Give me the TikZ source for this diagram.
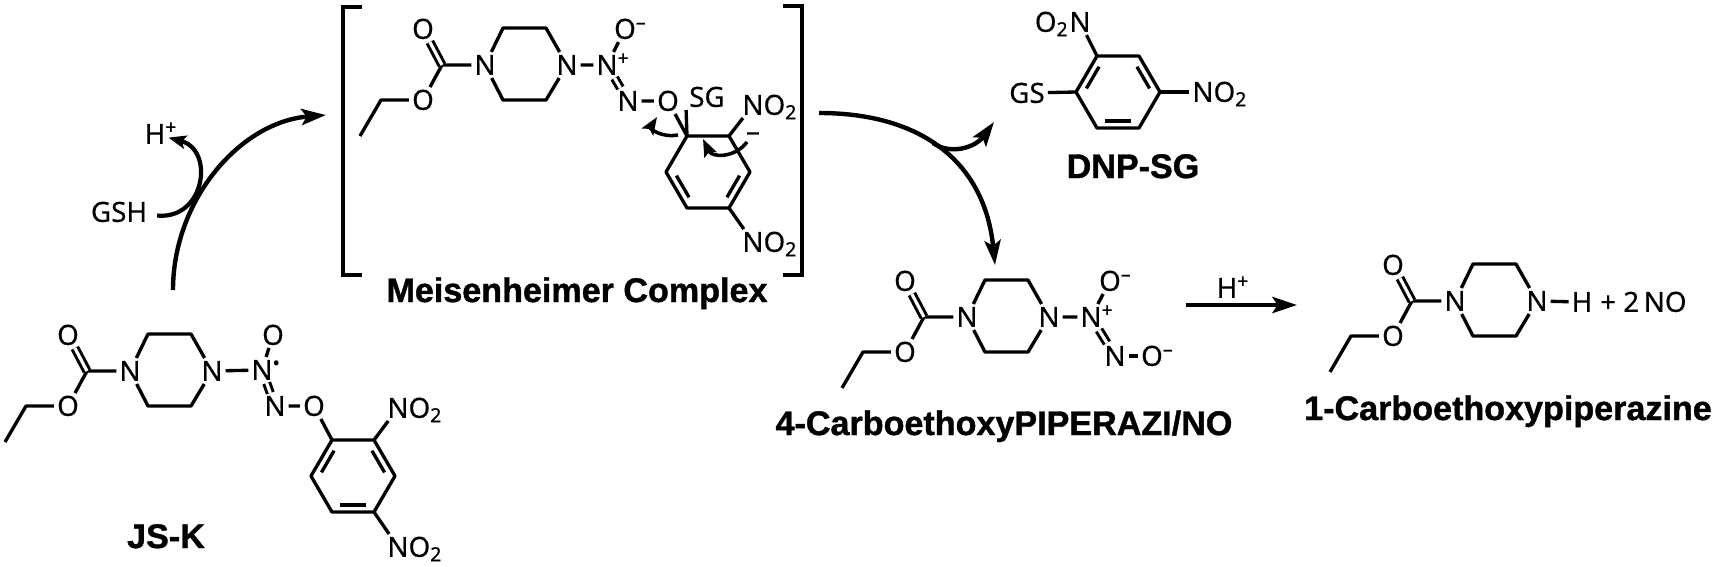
\documentclass[tikz,border=0pt]{standalone}
\usepackage{fontspec}
\usepackage{tikz}
\usetikzlibrary{arrows.meta,calc}
\setmainfont{Noto Sans}[FakeBold=0.35]
\newfontfamily\lblfont{Liberation Sans}[BoldFeatures={FakeBold=1.2}]
\newcommand{\chg}[1]{\rlap{\textsuperscript{#1}}}
\tikzset{
	atom/.style={inner sep=0.7pt,font=\fontsize{7.9}{9}\selectfont,text height=5.6pt,text depth=0pt},
	lbl/.style={inner sep=0pt,anchor=base,font=\lblfont\bfseries\fontsize{9.7}{11}\selectfont},
	bond/.style={line width=0.95pt,line join=round},
	dbl/.style={line width=0.85pt,double,double distance=0.9pt},
	brk/.style={line width=1.4pt,line join=miter},
	rxn/.style={line width=1.25pt,-{Stealth[length=7pt,width=4.6pt,inset=1.5pt]}},
	curly/.style={line width=1pt,-{Stealth[length=5pt,width=3.8pt,inset=1pt]}}
}
\begin{document}
\begin{tikzpicture}[x=0.01cm,y=-0.01cm]
		\useasboundingbox (0,0) rectangle (1717,566);

		% Ester and piperazine, four times
		\foreach \mol/\x/\y in {a/130/371, b/485/65, c/967/317, d/1455/301} {
			\begin{scope}[shift={(\x,\y)}]
				\node[atom] (\mol-L) at (0,0) {N};
				\node[atom] (\mol-R) at (82,0) {N};
				\node[atom] (\mol-O) at (-62,-36) {O};
				\node[atom] (\mol-E) at (-62,35) {O};
				\coordinate (\mol-C) at (-43,0);
				\coordinate (\mol-TL) at (18,-37);
				\coordinate (\mol-TR) at (61,-37);
				\coordinate (\mol-BR) at (61,35);
				\coordinate (\mol-BL) at (18,35);
				\coordinate (\mol-M) at (-104,35);
				\coordinate (\mol-T) at (-125,71);
				\draw[bond] (\mol-L) -- (\mol-TL) -- (\mol-TR) -- (\mol-R) -- (\mol-BR) -- (\mol-BL) -- (\mol-L);
				\draw[bond] (\mol-L) -- (\mol-C) -- (\mol-E) -- (\mol-M) -- (\mol-T);
				\draw[dbl] (\mol-C) -- (\mol-O);
			\end{scope}
		}

		% Aromatic rings
		\foreach \mol/\x/\y in {p/353/476, q/708/172, s/1118/92} {
			\begin{scope}[shift={(\x,\y)}]
				\coordinate (\mol0) at (0,0);
				\coordinate (\mol1) at (-21,-36);
				\coordinate (\mol2) at (21,-36);
				\coordinate (\mol3) at (42,0);
				\coordinate (\mol4) at (21,36);
				\coordinate (\mol5) at (-21,36);
				\coordinate (\mol6) at (-42,0);
				\draw[bond] (\mol1) -- (\mol2) -- (\mol3) -- (\mol4) -- (\mol5) -- (\mol6) -- cycle;
			\end{scope}
		}
		\foreach \mol/\i/\j in {p/1/6, p/2/3, p/4/5, q/3/4, q/5/6, s/1/6, s/2/3, s/4/5}
			\draw[bond] ($(\mol\i)!.22!(\mol0)!.1!(\mol\j)$) -- ($(\mol\j)!.22!(\mol0)!.1!(\mol\i)$);

		% JS-K
		\node[atom] (aN) at (262,370) {N\chg{•}};
		\node[atom] (aO) at (273,335) {O};
		\node[atom] (aM) at (275,406) {N};
		\node[atom] (aX) at (314,406) {O};
		\node[atom] (aA) at (398,408) {N\rlap{O\textsubscript{2}}};
		\node[atom] (aB) at (398,547) {N\rlap{O\textsubscript{2}}};
		\draw[bond] (a-R) -- (aN) -- (aO);
		\draw[dbl] (aN) -- (aM);
		\draw[bond] (aM) -- (aX) -- (p1);
		\draw[bond] (p2) -- (aA);
		\draw[bond] (p4) -- (aB);
		\node[lbl] (jsk) at (166,548) {JS-K};

		% Meisenheimer complex
		\node[atom] (bN) at (607,65) {N\chg{+}};
		\node[atom] (bO) at (625,29) {O\chg{--}};
		\node[atom] (bM) at (628,101) {N};
		\node[atom] (bX) at (668,101) {O};
		\node[atom] (bS) at (707,97) {SG};
		\node[atom] (bA) at (753,105) {N\rlap{O\textsubscript{2}}};
		\node[atom] (bB) at (753,242) {N\rlap{O\textsubscript{2}}};
		\node[atom] (bQ) at (753,131) {--};
		\draw[bond] (b-R) -- (bN) -- (bO);
		\draw[dbl] (bN) -- (bM);
		\draw[bond] (bM) -- (bX) -- (q1) -- (bS.south west);
		\draw[bond] (q2) -- (bA);
		\draw[bond] (q4) -- (bB);
		\draw[brk] (362,7) -| (343,275) -- (362,275);
		\draw[brk] (783,6) -| (802,275) -- (783,275);
		\coordinate (cA1) at (678,135);
		\coordinate (cA2) at (657,117);
		\coordinate (cB1) at (747,142);
		\coordinate (cB2) at (703,139);
		\draw[curly] (cA1) .. controls (660,138) and (650,128) .. (cA2);
		\draw[curly] (cB1) .. controls (735,158) and (712,158) .. (cB2);
		\node[lbl] (mc) at (577,302) {Meisenheimer Complex};

		% DNP-SG
		\node[atom] (sN) at (1080,22) {\llap{O\textsubscript{2}}N};
		\node[atom] (sG) at (1027,93) {GS};
		\node[atom] (sA) at (1203,92) {N\rlap{O\textsubscript{2}}};
		\draw[bond] (s1) -- (sN);
		\draw[bond] (s6) -- (sG);
		\draw[bond] (s3) -- (sA);
		\node[lbl] (dnp) at (1133,178) {DNP-SG};

		% 4-CarboethoxyPIPERAZI/NO
		\node[atom] (cN) at (1091,317) {N\chg{+}};
		\node[atom] (cO) at (1110,281) {O\chg{--}};
		\node[atom] (cM) at (1115,356) {N};
		\node[atom] (cX) at (1152,356) {O\chg{--}};
		\draw[bond] (c-R) -- (cN) -- (cO);
		\draw[dbl] (cN) -- (cM);
		\draw[bond] (cM) -- (cX);
		\node[lbl] (cpn) at (1004,435) {4-CarboethoxyPIPERAZI/NO};

		% 1-Carboethoxypiperazine
		\node[atom] (dH) at (1582,302) {H};
		\node[atom,anchor=west] (dP) at (1597,302) {+ 2\,NO};
		\draw[bond] (d-R) -- (dH);
		\node[lbl] (cpz) at (1508,420) {1-Carboethoxypiperazine};

		% Arrows
		\node[atom] (gsh) at (119,212) {GSH};
		\node[atom] (hA) at (155,134) {H\chg{+}};
		\node[atom] (hB) at (1227,288) {H\chg{+}};
		\coordinate (rA1) at (173,290);
		\coordinate (rA2) at (326,115);
		\coordinate (rB1) at (819,113);
		\coordinate (rB2) at (995,265);
		\coordinate (rC1) at (933,143);
		\coordinate (rC2) at (994,122);
		\coordinate (rD1) at (1186,305);
		\coordinate (rD2) at (1297,305);
		\draw[rxn] (rA1) .. controls (173,200) and (240,122) .. (rA2);
		\draw[rxn] (rB1) .. controls (925,113) and (985,165) .. (rB2);
		\draw[rxn] (rC1) .. controls (950,155) and (975,148) .. (rC2);
		\draw[rxn] (rD1) -- (rD2);
		\draw[curly,line width=1.2pt,shorten <=2pt] (gsh) .. controls (205,220) and (215,150) .. (hA);
	\end{tikzpicture}
\end{document}
